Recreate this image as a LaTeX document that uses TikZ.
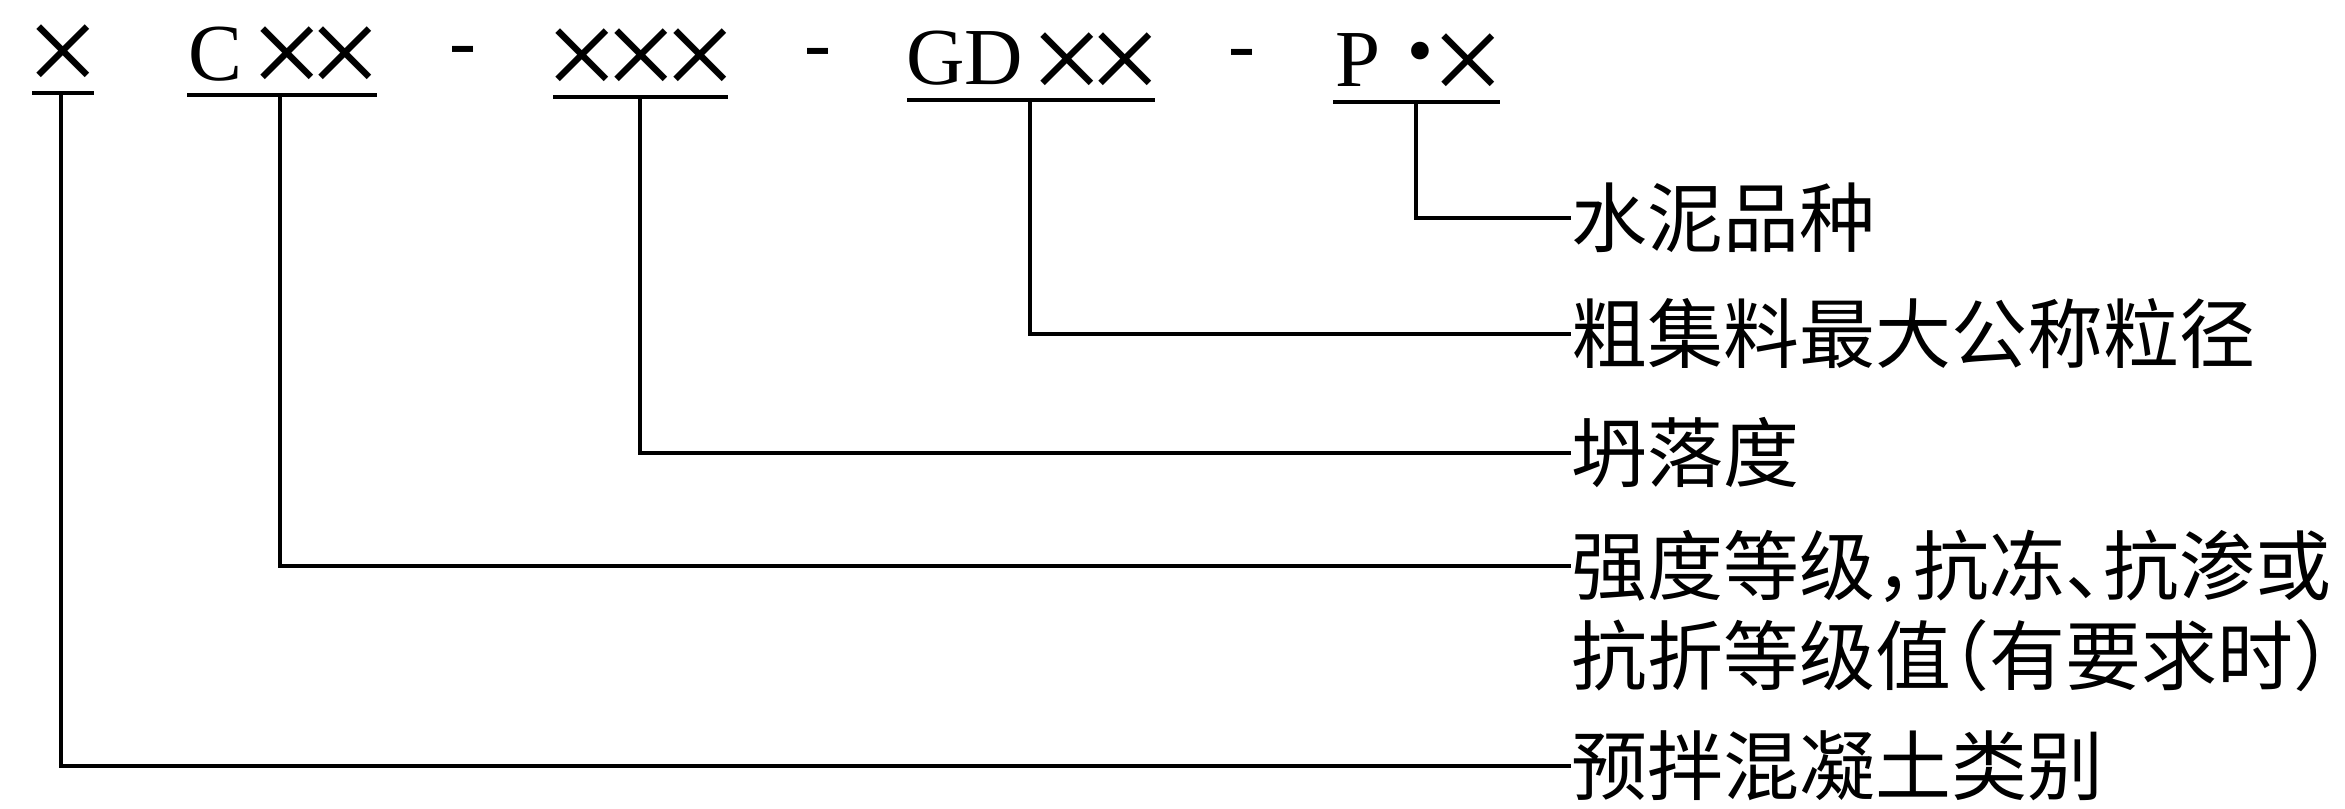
\documentclass[tikz,border=0pt]{standalone}
\usepackage{fontspec}
\setmainfont{Liberation Serif}
\newfontfamily\cjk[RawFeature={+halt}]{Noto Sans CJK SC}
\begin{document}
\begin{tikzpicture}[x=0.01cm,y=-0.01cm,
  letter/.style={inner sep=0pt, font=\fontsize{23}{23}\selectfont},
  sep/.style={inner sep=0pt, anchor=mid, font=\fontsize{23}{23}\selectfont},
  dotsep/.style={inner sep=0pt, anchor=mid, font=\fontsize{21}{21}\selectfont},
  cross/.style={inner sep=0pt, font=\fontsize{37}{37}\selectfont},
  lbl/.style={anchor=west, inner sep=0pt, font=\cjk\fontsize{21.6}{21.6}\selectfont},
  lead/.style={line width=1.1pt},
  uline/.style={line width=1.4pt}]
\useasboundingbox (0,0) rectangle (2345,809);

% code string along the top
\node[cross]  (x0) at (63,60)  {×};
\node[letter] (c)  at (215,54) {C};
\node[cross]  (c1) at (287,62) {×};
\node[cross]  (c2) at (345,62) {×};
\node[sep]    (d1) at (463,60) {-};
\node[cross]  (s1) at (582,64) {×};
\node[cross]  (s2) at (641,64) {×};
\node[cross]  (s3) at (700,64) {×};
\node[sep]    (d2) at (818,62) {-};
\node[letter] (gd) at (965,58) {GD};
\node[cross]  (g1) at (1067,68) {×};
\node[cross]  (g2) at (1125,68) {×};
\node[sep]    (d3) at (1242,63) {-};
\node[letter] (p)  at (1358,60) {P};
\node[dotsep] (pd) at (1420,67) {•};
\node[cross]  (p1) at (1468,69) {×};

% underlines below each field
\draw[uline] (32,93) -- (94,93);
\draw[uline] (187,95) -- (377,95);
\draw[uline] (553,97) -- (728,97);
\draw[uline] (907,100) -- (1155,100);
\draw[uline] (1333,102) -- (1500,102);

% starting points of the leaders
\coordinate (kx) at (61,93);
\coordinate (kc) at (280,95);
\coordinate (ks) at (640,97);
\coordinate (kg) at (1030,100);
\coordinate (kp) at (1416,102);

% explanations
\node[lbl] (l1) at (1571,218) {水泥品种};
\node[lbl] (l2) at (1571,334) {粗集料最大公称粒径};
\node[lbl] (l3) at (1571,453) {坍落度};
\node[lbl] (l4) at (1571,566) {强度等级，抗冻、抗渗或};
\node[lbl] (l4b) at (1571,656) {抗折等级值（有要求时）};
\node[lbl] (l5) at (1571,766) {预拌混凝土类别};

% leaders
\draw[lead] (kp) |- (l1.west);
\draw[lead] (kg) |- (l2.west);
\draw[lead] (ks) |- (l3.west);
\draw[lead] (kc) |- (l4.west);
\draw[lead] (kx) |- (l5.west);
\end{tikzpicture}
\end{document}
